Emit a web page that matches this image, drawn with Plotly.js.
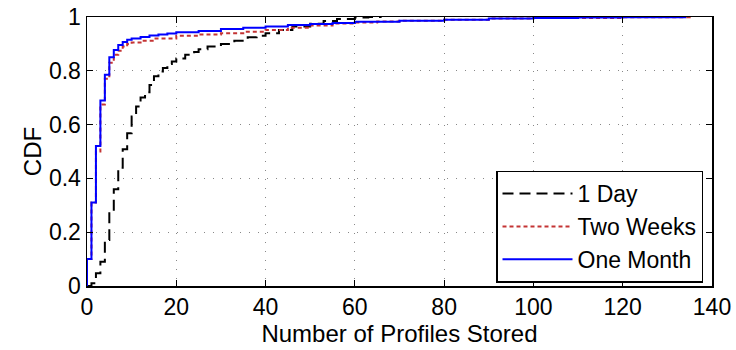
<!DOCTYPE html>
<html>
<head>
<meta charset="utf-8">
<script src="https://cdn.plot.ly/plotly-3.0.1.min.js"></script>
<style>html,body{margin:0;padding:0;background:#fff;}#chart{width:736px;height:350px;}</style>
</head>
<body>
<div id="chart"></div>
<script>
// 1 Day
const dayX = [0, 1, 2, 3, 4, 5, 6, 7, 8, 9, 10, 11, 12, 13, 14, 15, 16, 17, 18, 19, 20, 22, 24, 25, 27, 30, 33, 36, 38, 40, 43, 46, 50, 53, 56, 60, 63, 66];
const dayY = [0, 0.01, 0.047, 0.09, 0.171, 0.275, 0.36, 0.44, 0.508, 0.568, 0.63, 0.667, 0.701, 0.72, 0.747, 0.78, 0.797, 0.81, 0.825, 0.835, 0.846, 0.86, 0.87, 0.88, 0.89, 0.9, 0.912, 0.925, 0.93, 0.94, 0.952, 0.965, 0.975, 0.985, 0.993, 0.998, 1.0, 1.0];
// Two Weeks
const twoX = [0, 0, 1, 2, 3, 4, 5, 6, 7, 8, 9, 10, 12, 15, 20, 25, 30, 35, 40, 45, 50, 55, 60, 65, 70, 80, 90, 100, 120, 135];
const twoY = [0, 0.1, 0.31, 0.5, 0.675, 0.77, 0.83, 0.86, 0.875, 0.89, 0.9, 0.905, 0.912, 0.92, 0.93, 0.935, 0.94, 0.945, 0.952, 0.96, 0.968, 0.976, 0.98, 0.983, 0.986, 0.99, 0.994, 0.996, 0.999, 1.0];
// One Month
const monX = [0, 0, 1, 2, 3, 4, 5, 6, 7, 8, 9, 10, 12, 14, 16, 18, 20, 25, 30, 35, 40, 45, 50, 55, 60, 70, 80, 90, 100, 110, 120, 134];
const monY = [0, 0.1, 0.31, 0.52, 0.69, 0.785, 0.85, 0.877, 0.896, 0.907, 0.915, 0.92, 0.926, 0.931, 0.935, 0.939, 0.943, 0.948, 0.955, 0.96, 0.965, 0.97, 0.974, 0.978, 0.982, 0.986, 0.99, 0.994, 0.996, 0.998, 0.999, 1.0];

const seriesNames = ["1 Day", "Two Weeks", "One Month"];

const traces = [
  {x: dayX, y: dayY, name: seriesNames[0], mode: 'lines', line: {shape: 'hv', color: '#000', width: 2, dash: '11px,6px'}},
  {x: twoX, y: twoY, name: seriesNames[1], mode: 'lines', line: {shape: 'hv', color: 'rgb(196,52,52)', width: 2, dash: '4px,3px'}},
  {x: monX, y: monY, name: seriesNames[2], mode: 'lines', line: {shape: 'hv', color: 'rgb(0,0,255)', width: 2}}
];

const axisCommon = {
  showline: true, linecolor: '#000', linewidth: 1.5, mirror: 'ticks',
  ticks: 'inside', ticklen: 6, tickcolor: '#000', tickwidth: 1,
  showgrid: true, gridcolor: '#888', gridwidth: 1, griddash: '1px,8px',
  zeroline: false, tickfont: {size: 23, color: '#000'}
};

const layout = {
  width: 736, height: 350,
  margin: {l: 87, r: 24, t: 17, b: 64},
  paper_bgcolor: '#fff', plot_bgcolor: '#fff',
  font: {family: 'Liberation Sans, Arial, sans-serif', size: 23, color: '#000'},
  xaxis: Object.assign({}, axisCommon, {range: [0, 140], dtick: 20, tick0: 0,
    title: {text: 'Number of Profiles Stored', font: {size: 24}, standoff: 2}}),
  yaxis: Object.assign({}, axisCommon, {range: [0, 1], dtick: 0.2, tick0: 0,
    title: {text: 'CDF', font: {size: 24}, standoff: 0}}),
  showlegend: true,
  legend: {x: 0.9856, y: 0.221, xanchor: 'right', yanchor: 'middle', bgcolor: '#fff',
    bordercolor: '#000', borderwidth: 1.5, font: {size: 23}, tracegroupgap: 0,
    itemwidth: 70, entrywidth: 130, entrywidthmode: 'pixels'}
};

Plotly.newPlot('chart', traces, layout, {displayModeBar: false, staticPlot: true});
</script>
</body>
</html>
